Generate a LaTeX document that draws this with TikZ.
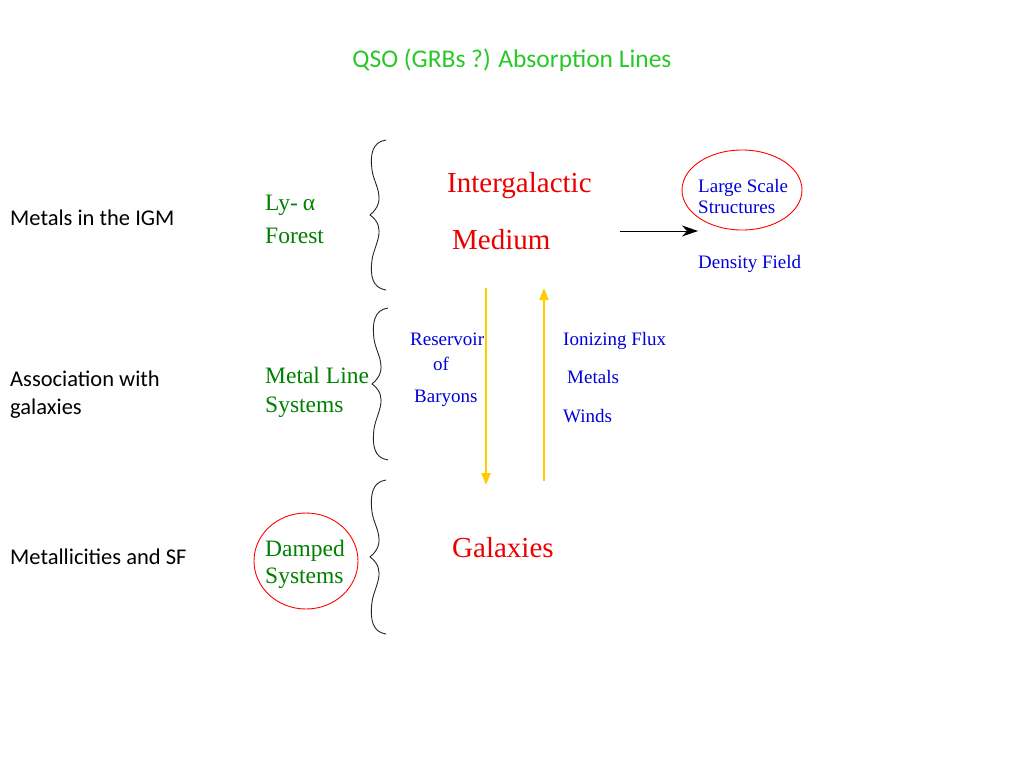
\documentclass[tikz,border=0pt]{standalone}
\usepackage{fontspec}
\setmainfont{Liberation Serif}
\newfontfamily\carl{Carlito}
\usetikzlibrary{arrows.meta,shapes.geometric}
\definecolor{titlegreen}{RGB}{40,200,40}
\definecolor{dkgreen}{RGB}{0,128,0}
\definecolor{bluetxt}{RGB}{0,0,220}
\definecolor{redtxt}{RGB}{235,0,0}
\definecolor{gold}{RGB}{255,204,0}
\tikzset{
  lefttxt/.style={anchor=base west, inner sep=0pt, font=\carl\fontsize{22.5}{22.5}\selectfont, text=black},
  greentxt/.style={anchor=base west, inner sep=0pt, font=\fontsize{23.5}{23.5}\selectfont, text=dkgreen},
  redbig/.style={anchor=base west, inner sep=0pt, font=\fontsize{29}{29}\selectfont, text=redtxt},
  bluesm/.style={anchor=base west, inner sep=0pt, font=\fontsize{19}{19}\selectfont, text=bluetxt},
  wbrace/.pic={\draw[line width=0.9pt, black!85] (16,-#1) .. controls (2,-#1+2) and (0,-#1+15) .. (2,-45) .. controls (4,-30) and (18,-15) .. (0,0) .. controls (18,13) and (4,30) .. (2,45) .. controls (0,#1-15) and (2,#1-2) .. (16,#1);},
  ring/.style={draw=red, line width=0.9pt, ellipse, minimum width=#1},
  goldarrow/.style={draw=gold, line width=2pt, -{Triangle[length=12pt,width=9pt]}},
}
\begin{document}
\begin{tikzpicture}[x=1pt,y=-1pt]
\useasboundingbox[fill=white] (0,0) rectangle (1024,768);
% title
\node[anchor=base, inner sep=0pt, font=\carl\fontsize{25.5}{25.5}\selectfont, text=titlegreen] (title) at (512,67) {QSO (GRBs ?) Absorption Lines};
% left column
\node[lefttxt] (l1) at (10,225) {Metals in the IGM};
\node[lefttxt] (l2a) at (10,386) {Association with};
\node[lefttxt] (l2b) at (10,414) {galaxies};
\node[lefttxt] (l3) at (10,564) {Metallicities and SF};
% green labels
\node[greentxt] (lya) at (265,210) {Ly-\kern5pt α};
\node[greentxt] (forest) at (265,243) {Forest};
\node[greentxt] (mline) at (265,383) {Metal Line};
\node[greentxt] (msys) at (265,412) {Systems};
\node[greentxt] (damped) at (265,556) {Damped};
\node[greentxt] (dsys) at (265,583) {Systems};
\node[ring=104pt, minimum height=96pt] (dring) at (306,561) {};
% braces
\pic at (370,215) {wbrace=75};
\pic at (372,384) {wbrace=76};
\pic at (370,557) {wbrace=77};
% red labels
\node[redbig] (igm1) at (447,192) {Intergalactic};
\node[redbig] (igm2) at (452,249) {Medium};
\node[redbig] (gal) at (452,557) {Galaxies};
% blue labels
\node[bluesm] (res) at (410,345) {Reservoir};
\node[bluesm] (of) at (433,370) {of};
\node[bluesm] (bar) at (414,402) {Baryons};
\node[bluesm] (ion) at (563,345) {Ionizing Flux};
\node[bluesm] (met) at (567,383) {Metals};
\node[bluesm] (win) at (563,422) {Winds};
\node[bluesm] (lss1) at (698,192) {Large Scale};
\node[bluesm] (lss2) at (698,213) {Structures};
\node[bluesm] (dens) at (698,268) {Density Field};
\node[ring=120pt, minimum height=80pt] (lssring) at (742,190) {};
% connectors
\coordinate (a1) at (620,231);
\coordinate (a2) at (698,231);
\draw[line width=0.9pt, -{Stealth[length=16pt,width=11pt,inset=5pt]}] (a1) -- (a2);
\coordinate (d1) at (486,288);
\coordinate (d2) at (486,485);
\draw[goldarrow] (d1) -- (d2);
\coordinate (u1) at (544,481);
\coordinate (u2) at (544,288);
\draw[goldarrow] (u1) -- (u2);
\end{tikzpicture}
\end{document}
